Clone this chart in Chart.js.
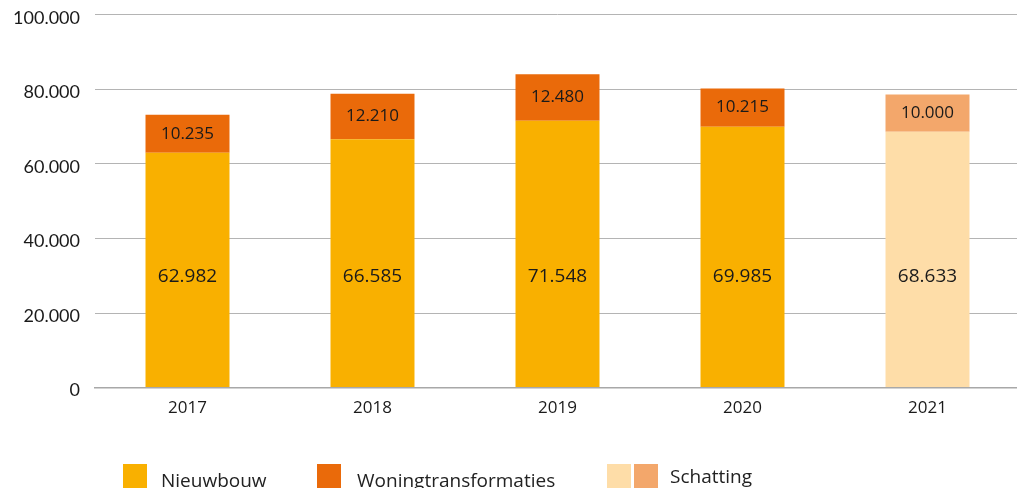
<!DOCTYPE html>
<html>
<head>
<meta charset="utf-8">
<script src="https://cdn.jsdelivr.net/npm/chart.js@4"></script>
<style>
  html, body { margin: 0; padding: 0; overflow: hidden; background: #fff; }
  #wrap { position: relative; width: 1017px; height: 488px; overflow: hidden; }
  canvas { position: absolute; left: 0; top: -11px; }
  .lg { position: absolute; top: 464px; font-family: "Open Sans", sans-serif; font-size: 19px; color: #222; line-height: 24px; white-space: nowrap; }
  .sw { position: absolute; top: 464px; width: 24px; height: 24px; }
</style>
</head>
<body>
<div id="wrap">
  <canvas id="c" width="1020" height="499"></canvas>
  <div class="sw" style="left:123px;background:#F9B000"></div>
  <div class="lg" style="left:161px;top:468px">Nieuwbouw</div>
  <div class="sw" style="left:317px;background:#EA6A0A"></div>
  <div class="lg" style="left:357px;top:468px">Woningtransformaties</div>
  <div class="sw" style="left:607px;background:#FEDDA8"></div>
  <div class="sw" style="left:634px;background:#F3A76B"></div>
  <div class="lg" style="left:670px;top:464px">Schatting</div>
</div>
<script>
const years = ['2017', '2018', '2019', '2020', '2021'];
const nieuwbouw = [62982, 66585, 71548, 69985, 68633];
const transformaties = [10235, 12210, 12480, 10215, 10000];
const yTickValues = [0, 20000, 40000, 60000, 80000, 100000];
const seriesNames = ['Nieuwbouw', 'Woningtransformaties'];

function fmt(v) {
  return String(Math.round(v)).replace(/\B(?=(\d{3})+(?!\d))/g, '.');
}

const labelPlugin = {
  id: 'barLabels',
  afterDatasetsDraw(chart) {
    const ctx = chart.ctx;
    const y = chart.scales.y;
    ctx.save();
    ctx.fillStyle = '#1a1a1a';
    ctx.textAlign = 'center';
    ctx.textBaseline = 'middle';
    chart.getDatasetMeta(0).data.forEach((bar, i) => {
      ctx.font = '19px "Open Sans", sans-serif';
      ctx.fillText(fmt(nieuwbouw[i]), bar.x, y.getPixelForValue(29700));
    });
    chart.getDatasetMeta(1).data.forEach((bar, i) => {
      ctx.font = '17px "Open Sans", sans-serif';
      ctx.fillText(fmt(transformaties[i]), bar.x, (bar.y + bar.base) / 2);
    });
    ctx.restore();
  }
};

new Chart(document.getElementById('c'), {
  type: 'bar',
  data: {
    labels: years,
    datasets: [
      {
        label: seriesNames[0],
        data: nieuwbouw,
        backgroundColor: ['#F9B000', '#F9B000', '#F9B000', '#F9B000', '#FEDDA8']
      },
      {
        label: seriesNames[1],
        data: transformaties,
        backgroundColor: ['#EA6A0A', '#EA6A0A', '#EA6A0A', '#EA6A0A', '#F3A76B']
      }
    ]
  },
  options: {
    responsive: false,
    animation: false,
    events: [],
    layout: { padding: { top: 0, bottom: 60, left: 0, right: 0 } },
    datasets: { bar: { barPercentage: 0.454, categoryPercentage: 1 } },
    plugins: { legend: { display: false }, tooltip: { enabled: false } },
    scales: {
      x: {
        stacked: true,
        grid: { display: false, drawTicks: false },
        border: { display: true, color: '#a8a8a8', width: 1.5 },
        ticks: { color: '#1a1a1a', padding: 10, font: { family: '"Open Sans", sans-serif', size: 17 } }
      },
      y: {
        stacked: true,
        min: 0,
        max: 100000,
        afterBuildTicks(scale) { scale.ticks = yTickValues.map(v => ({ value: v })); },
        afterFit(scale) { scale.width = 95; },
        grid: { color: '#b4b4b4', lineWidth: 1, drawTicks: false },
        border: { display: false },
        ticks: {
          color: '#1a1a1a',
          padding: 15,
          labelOffset: 3,
          font: { family: 'Lato, sans-serif', size: 18 },
          callback: v => fmt(v)
        }
      }
    }
  },
  plugins: [labelPlugin]
});
</script>
</body>
</html>
